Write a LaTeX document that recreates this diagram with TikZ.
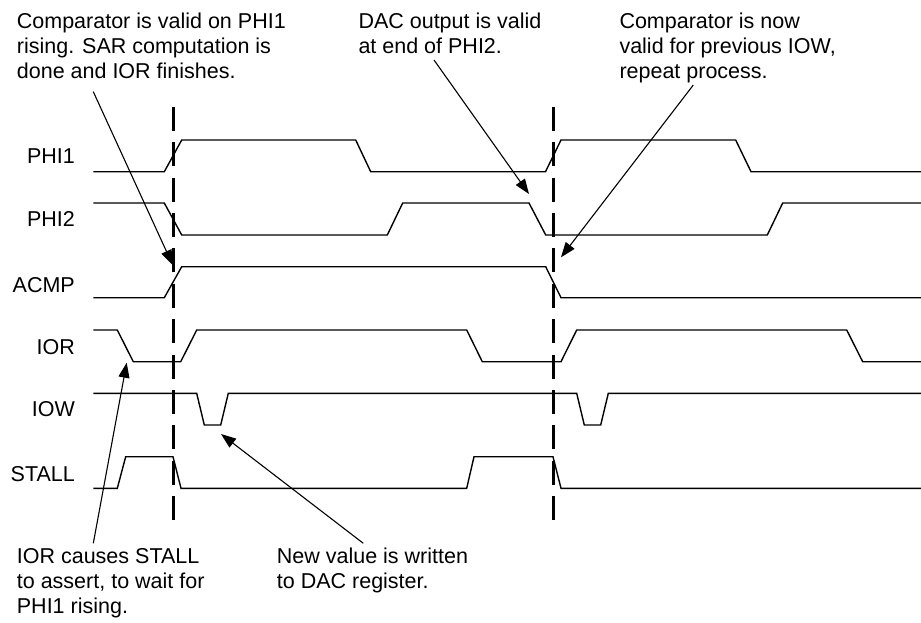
\documentclass[tikz,border=0pt]{standalone}
\usepackage{fontspec}
\setmainfont{Liberation Sans}
\usetikzlibrary{arrows.meta}
\begin{document}
\begin{tikzpicture}[x=1pt,y=-1pt,
  font=\fontsize{21.5}{25}\selectfont,
  sig/.style={line width=1.4pt, line join=miter},
  guide/.style={line width=3pt, dash pattern=on 24pt off 11.4pt},
  callout/.style={line width=1.1pt, -{Triangle[length=15pt,width=11pt]}},
  lbl/.style={anchor=east, inner sep=0pt},
  note/.style={anchor=base west, inner sep=0pt}]
\useasboundingbox (0,0) rectangle (921,622);

% notes
\node[note] (n1) at (16.7,28.3) {\begin{tabular}[t]{@{}l@{}}Comparator is valid on PHI1\\rising. SAR computation is\\done and IOR finishes.\end{tabular}};
\node[note] (n2) at (358.3,28.3) {\begin{tabular}[t]{@{}l@{}}DAC output is valid\\at end of PHI2.\end{tabular}};
\node[note] (n3) at (619.3,28.3) {\begin{tabular}[t]{@{}l@{}}Comparator is now\\valid for previous IOW,\\repeat process.\end{tabular}};
\node[note] (n4) at (16.7,563.3) {\begin{tabular}[t]{@{}l@{}}IOR causes STALL\\to assert, to wait for\\PHI1 rising.\end{tabular}};
\node[note] (n5) at (276.7,563.3) {\begin{tabular}[t]{@{}l@{}}New value is written\\to DAC register.\end{tabular}};

% signal labels
\node[lbl] (lphi1) at (75,156.5) {PHI1};
\node[lbl] (lphi2) at (75,219.3) {PHI2};
\node[lbl] (lacmp) at (75,285) {ACMP};
\node[lbl] (lior) at (75,346.7) {IOR};
\node[lbl] (liow) at (75,409.3) {IOW};
\node[lbl] (lstall) at (75,474) {STALL};

% dashed guides
\coordinate (g1t) at (173,106.7); \coordinate (g1b) at (173,520);
\coordinate (g2t) at (553,106.7); \coordinate (g2b) at (553,520);
\draw[guide] (g1t) -- (g1b);
\draw[guide] (g2t) -- (g2b);

% waveforms
\draw[sig] (93.3,171.7) -- (164.3,171.7) -- (181.7,140) -- (355.7,140) -- (370.7,171.7)
  -- (545.5,171.7) -- (561,140) -- (735.7,140) -- (751,171.7) -- (921,171.7);
\draw[sig] (93.3,203) -- (164.3,203) -- (181.7,235) -- (387.3,235) -- (402.7,203)
  -- (529,203) -- (545.7,235) -- (767.3,235) -- (782.7,203) -- (921,203);
\draw[sig] (93.3,297.7) -- (164.3,297.7) -- (181.7,266.7) -- (545.7,266.7) -- (561,297.7) -- (921,297.7);
\draw[sig] (93.3,330) -- (117.3,330) -- (133.3,361.7) -- (180.7,361.7) -- (196.7,330)
  -- (466.7,330) -- (482.3,361.7) -- (561,361.7) -- (576.7,330) -- (846.7,330)
  -- (862.7,361.7) -- (921,361.7);
\draw[sig] (93.3,393.3) -- (196.7,393.3) -- (204.3,425) -- (220.7,425) -- (228.3,393.3)
  -- (576.7,393.3) -- (584.3,425) -- (600.7,425) -- (608.3,393.3) -- (921,393.3);
\draw[sig] (93.3,488.3) -- (117.3,488.3) -- (125.7,456.7) -- (173,456.7) -- (181,488.3)
  -- (466.7,488.3) -- (474,456.7) -- (553,456.7) -- (561,488.3) -- (921,488.3);

% callout arrows
\coordinate (a1s) at (93.3,91.7);  \coordinate (a1e) at (172.7,265);
\coordinate (a2s) at (434,60);     \coordinate (a2e) at (529,194);
\coordinate (a3s) at (693.3,85);   \coordinate (a3e) at (561,257.3);
\coordinate (a4s) at (93.3,543.3); \coordinate (a4e) at (126.7,362.7);
\coordinate (a5s) at (363.3,543.3);\coordinate (a5e) at (221,434);
\draw[callout] (a1s) -- (a1e);
\draw[callout] (a2s) -- (a2e);
\draw[callout] (a3s) -- (a3e);
\draw[callout] (a4s) -- (a4e);
\draw[callout] (a5s) -- (a5e);
\end{tikzpicture}
\end{document}
